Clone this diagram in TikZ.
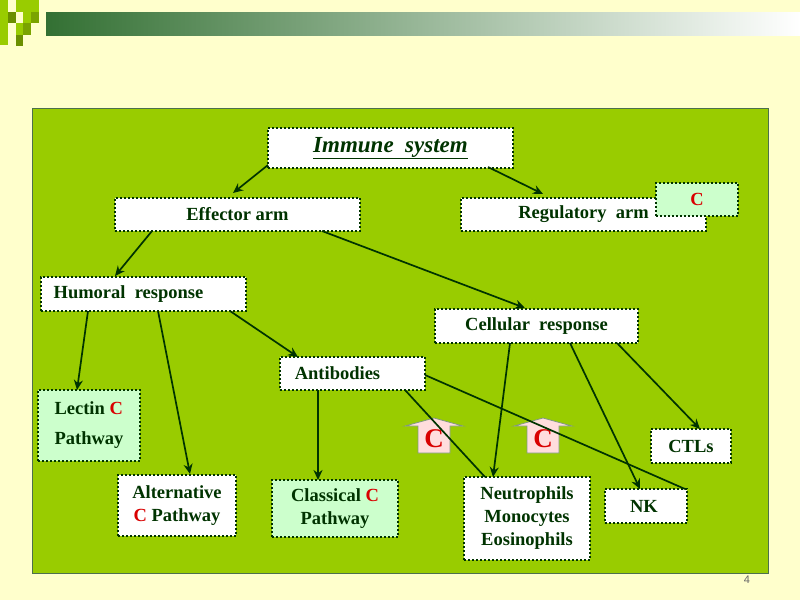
\documentclass[tikz,border=0pt]{standalone}
\usepackage{fontspec}
\setmainfont{Liberation Serif}
\newfontfamily\arialf{Liberation Sans}
\usetikzlibrary{arrows.meta}
\definecolor{bg}{HTML}{FFFFCC}
\definecolor{panel}{HTML}{99CC00}
\definecolor{dg}{HTML}{003300}
\definecolor{lg}{HTML}{CCFFCC}
\definecolor{pk}{HTML}{FFDDDD}
\tikzset{
 bx/.style={draw=dg,line width=2pt,dotted,fill=white,text=dg,font=\bfseries\fontsize{18.5}{22}\selectfont,inner sep=0pt},
 ar/.style={draw=dg,line width=1.7pt,-{Stealth[length=10pt,width=9pt]}},
 ln/.style={draw=dg,line width=1.7pt},
 carrow/.style={draw=dg!50,fill=pk,line width=0.8pt},
}
\begin{document}
\begin{tikzpicture}[x=1pt,y=-1pt]
\fill[bg] (0,0) rectangle (800,600);
\useasboundingbox (0,0) rectangle (800,600);
% banner
\shade[left color=green!30!black!80,right color=white] (46,12) rectangle (800,35);
\fill[panel] (0,0) rectangle (8,45);
\fill[panel!70!black] (8,12) rectangle (16,23);
\fill[panel] (16,0) rectangle (39,12);
\fill[panel] (23,12) rectangle (31,23);
\fill[panel!80!black] (31,12) rectangle (39,23);
\fill[panel] (16,23) rectangle (23,35);
\fill[panel!80!black] (23,23) rectangle (31,35);
\fill[panel!70!black] (16,35) rectangle (23,46);
\fill[panel] (32,108) rectangle (768,573);
\draw[dg!70,line width=0.6pt] (32,108) rectangle (768,573);
% C arrows
\foreach \n/\x in {c1/434,c2/543}{
 \draw[carrow] (\x-16,453) -- (\x-16,426) -- (\x-29,426) -- (\x,418) -- (\x+29,426) -- (\x+16,426) -- (\x+16,453) -- cycle;
 \node[text=red!85!black,font=\bfseries\fontsize{27}{27}\selectfont,inner sep=0pt] (\n) at (\x,439) {C};}
% nodes
\node[bx,minimum width=245,minimum height=40] (imm) at (390.5,148) {\underline{\itshape\fontsize{23}{26}\selectfont Immune\ \ system}};
\node[bx,minimum width=245,minimum height=33] (eff) at (237.5,214.5) {Effector arm};
\node[bx,minimum width=245,minimum height=33] (reg) at (583.5,214.5) {Regulatory\ \ arm\hspace{55pt}};
\node[bx,fill=lg,minimum width=82,minimum height=33] (regc) at (697,199.5) {\color{red!85!black}C};
\node[bx,minimum width=205,minimum height=34] (hum) at (143.5,294) {\hspace*{-30pt}Humoral\ \ response};
\node[bx,minimum width=203,minimum height=34] (cel) at (536.5,326) {Cellular\ \ response};
\node[bx,minimum width=145,minimum height=33] (ab) at (352.5,373.5) {\hspace*{-30pt}Antibodies};
\node[bx,fill=lg,minimum width=102,minimum height=71,align=left] (lec) at (89,425.5) {Lectin {\color{red!85!black}C}\\[8pt]Pathway};
\node[bx,minimum width=118,minimum height=61,align=center] (alt) at (177,505.5) {Alternative\\[1pt]{\color{red!85!black}C} Pathway};
\node[bx,fill=lg,minimum width=126,minimum height=57,align=center] (cla) at (335,508.5) {Classical {\color{red!85!black}C}\\[1pt]Pathway};
\node[bx,minimum width=126,minimum height=83,align=center] (neu) at (527,518.5) {Neutrophils\\[1pt]Monocytes\\[1pt]Eosinophils};
\node[bx,minimum width=82,minimum height=34] (nk) at (646,506) {\hspace*{-4pt}NK};
\node[bx,minimum width=80,minimum height=34] (ctl) at (691,446) {CTLs};
% connectors
\draw[ar] (268,165) -- (233,193);
\draw[ar] (488,167) -- (543,194);
\draw[ar] (152,231) -- (115,276);
\draw[ar] (322,231) -- (525,308);
\draw[ar] (88,311) -- (77,390);
\draw[ar] (158,311) -- (190,474);
\draw[ar] (230,311) -- (298,357);
\draw[ar] (318,390) -- (318,480);
\draw[ln] (405,390) -- (485,477);
\draw[ln] (425,375) -- (685,489);
\draw[ar] (510,343) -- (493,477);
\draw[ar] (570,343) -- (640,489);
\draw[ar] (617,343) -- (700,429);
\node[text=black!60,font=\arialf\fontsize{11}{11}\selectfont] (pg) at (747,580) {4};
\end{tikzpicture}
\end{document}
